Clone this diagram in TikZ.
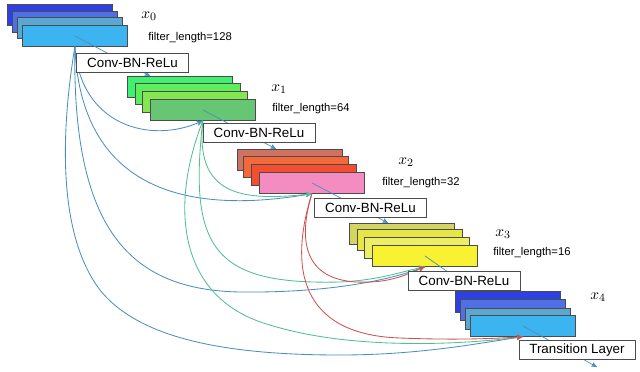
\documentclass[tikz,border=0pt]{standalone}
\usepackage{fontspec}
\setmainfont{Liberation Sans}
\usepackage{xcolor}
\usepackage{tikz}
\usetikzlibrary{arrows,calc}

\definecolor{blueA}{HTML}{2D40E6}
\definecolor{blueB}{HTML}{4F70E2}
\definecolor{blueC}{HTML}{5AA8D2}
\definecolor{blueD}{HTML}{3CB4F0}
\definecolor{greenA}{HTML}{40F070}
\definecolor{greenB}{HTML}{5CEE5C}
\definecolor{greenC}{HTML}{84E650}
\definecolor{greenD}{HTML}{66C674}
\definecolor{redA}{HTML}{D07262}
\definecolor{redB}{HTML}{F4683A}
\definecolor{redC}{HTML}{F44E30}
\definecolor{redD}{HTML}{F48CC2}
\definecolor{yelA}{HTML}{D4D462}
\definecolor{yelB}{HTML}{E6E646}
\definecolor{yelC}{HTML}{EEEE66}
\definecolor{yelD}{HTML}{F8F232}
\definecolor{linkblue}{HTML}{4A8FC0}
\definecolor{linkgreen}{HTML}{52BE92}
\definecolor{linkred}{HTML}{D05050}

\begin{document}
\begin{tikzpicture}[x=0.025cm,y=-0.025cm,>=stealth']
  \tikzstyle{fmap}=[rectangle,draw=black!70,line width=0.5pt,minimum width=2.625cm,minimum height=0.525cm,inner sep=0pt,anchor=north west]
  \tikzstyle{convbox}=[rectangle,draw=black!70,fill=white,line width=0.5pt,minimum width=2.8cm,minimum height=0.47cm,inner sep=0pt,font=\fontsize{9.5}{11}\selectfont]
  \tikzstyle{maplabel}=[font=\fontsize{11}{13}\selectfont]
  \tikzstyle{lenlabel}=[font=\fontsize{8}{10}\selectfont,anchor=west,inner sep=0pt]
  \tikzstyle{fwd}=[->,draw=linkblue,line width=0.5pt]
  \tikzstyle{dblue}=[->,draw=linkblue,line width=0.6pt]
  \tikzstyle{dgreen}=[->,draw=linkgreen,line width=0.6pt]
  \tikzstyle{dred}=[->,draw=linkred,line width=0.6pt]

  \useasboundingbox (0,0) rectangle (640,371);

  % Feature maps
  \node [fmap, fill=blueA] (x0a) at (7,4) {};
  \node [fmap, fill=blueB] (x0b) at (12,11) {};
  \node [fmap, fill=blueC] (x0c) at (17,17) {};
  \node [fmap, fill=blueD] (x0d) at (22,25) {};

  \node [fmap, fill=greenA] (x1a) at (127,76) {};
  \node [fmap, fill=greenB] (x1b) at (135,83) {};
  \node [fmap, fill=greenC] (x1c) at (142,91) {};
  \node [fmap, fill=greenD] (x1d) at (150,99) {};

  \node [fmap, fill=redA] (x2a) at (237,149) {};
  \node [fmap, fill=redB] (x2b) at (243,156) {};
  \node [fmap, fill=redC] (x2c) at (251,164) {};
  \node [fmap, fill=redD] (x2d) at (259,172) {};

  \node [fmap, fill=yelA] (x3a) at (349,223) {};
  \node [fmap, fill=yelB] (x3b) at (357,229) {};
  \node [fmap, fill=yelC] (x3c) at (364,237) {};
  \node [fmap, fill=yelD] (x3d) at (372,245) {};

  \node [fmap, fill=blueA] (x4a) at (455,291) {};
  \node [fmap, fill=blueB] (x4b) at (460,299) {};
  \node [fmap, fill=blueC] (x4c) at (465,308) {};
  \node [fmap, fill=blueD] (x4d) at (470,315) {};

  % Labels
  \node [maplabel] (n0) at (149,16) {$x_0$};
  \node [lenlabel] (s0) at (148,38) {filter\_length=128};
  \node [maplabel] (n1) at (279,89) {$x_1$};
  \node [lenlabel] (s1) at (272,109) {filter\_length=64};
  \node [maplabel] (n2) at (406,162) {$x_2$};
  \node [lenlabel] (s2) at (382,183) {filter\_length=32};
  \node [maplabel] (n3) at (503,234) {$x_3$};
  \node [lenlabel] (s3) at (493,253) {filter\_length=16};
  \node [maplabel] (n4) at (598,297) {$x_4$};

  % Forward links
  \coordinate (out) at (597,367);
  \draw [fwd] (x0d.center) -- ($(x1a.north west)!0.22!(x1a.north east)$);
  \draw [fwd] (x1d.center) -- ($(x2a.north west)!0.37!(x2a.north east)$);
  \draw [fwd] (x2d.center) -- ($(x3a.north west)!0.37!(x3a.north east)$);
  \draw [fwd] (x3d.center) -- ($(x4a.north west)!0.19!(x4a.north east)$);
  \draw [fwd] (x4d.center) -- (out);

  % Dense links
  \draw [dblue] (x0d.south) .. controls (80,125) and (150,145) .. (x1d.south);
  \draw [dblue] (x0d.south) .. controls (80,170) and (160,220) .. (x2d.south);
  \draw [dblue] (x0d.south) .. controls (72,230) and (130,290) .. (240,292)
                            .. controls (330,293) and (390,280) .. (x3d.south);
  \draw [dblue] (x0d.south) .. controls (58,150) and (62,240) .. (100,290)
                            .. controls (140,340) and (230,355) .. (340,355)
                            .. controls (420,355) and (480,343) .. (x4d.south);

  \draw [dgreen] (x1d.south) .. controls (195,195) and (240,202) .. (x2d.south);
  \draw [dgreen] (x1d.south) .. controls (188,250) and (215,285) .. (340,282)
                             .. controls (380,280) and (400,272) .. (x3d.south);
  \draw [dgreen] (x1d.south) .. controls (168,210) and (180,300) .. (270,325)
                             .. controls (350,350) and (460,345) .. (x4d.south);

  \draw [dred] (x2d.south) .. controls (295,250) and (310,285) .. (370,282)
                           .. controls (395,281) and (410,273) .. (x3d.south);
  \draw [dred] (x2d.south) .. controls (285,280) and (310,335) .. (400,338)
                           .. controls (450,340) and (490,339) .. (x4d.south);

  % Layers
  \node [convbox] (cbr0) at (132.5,62.5) {Conv-BN-ReLu};
  \node [convbox] (cbr1) at (259,133) {Conv-BN-ReLu};
  \node [convbox] (cbr2) at (370.5,208) {Conv-BN-ReLu};
  \node [convbox] (cbr3) at (464,280.5) {Conv-BN-ReLu};
  \node [convbox, minimum width=2.9cm] (trans) at (577,350) {Transition Layer};
\end{tikzpicture}
\end{document}
